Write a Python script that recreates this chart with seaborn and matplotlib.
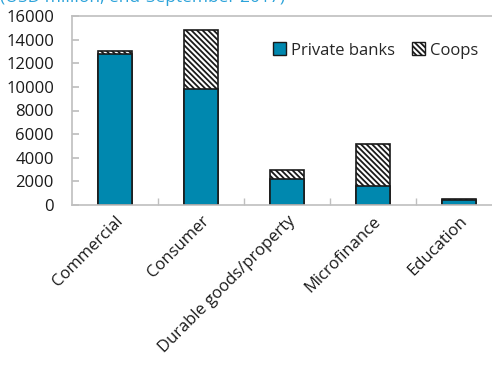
import matplotlib
matplotlib.use("Agg")
import matplotlib.pyplot as plt
import seaborn as sns
import pandas as pd
from matplotlib.patches import Patch
from matplotlib.ticker import FixedLocator

categories = ["Commercial", "Consumer", "Durable goods/property", "Microfinance", "Education"]
private_banks = [12750, 9800, 2200, 1600, 400]
coops = [300, 5000, 750, 3600, 150]
yticks = [0, 2000, 4000, 6000, 8000, 10000, 12000, 14000, 16000]
title = "(USD million, end-September 2017)"

sns.set_theme(style="white")
plt.rcParams["font.family"] = ["Open Sans", "DejaVu Sans"]
plt.rcParams["hatch.color"] = "#555555"
plt.rcParams["hatch.linewidth"] = 1.3

df = pd.DataFrame({"cat": categories, "private": private_banks, "coops": coops})
df["total"] = df["private"] + df["coops"]

fig = plt.figure(figsize=(4.92, 3.73), dpi=100)
ax = fig.add_axes([72 / 492, 1 - 205 / 373, 430 / 492, 189 / 373])

blue = "#0088AF"
hatch = "\\" * 6
sns.barplot(data=df, x="cat", y="total", color="white", edgecolor="#1a1a1a",
            linewidth=1.2, hatch=hatch, width=0.4, ax=ax, saturation=1)
sns.barplot(data=df, x="cat", y="private", color=blue, edgecolor="#1a1a1a",
            linewidth=1.2, width=0.4, ax=ax, saturation=1)

ax.set_ylim(0, 16000)
ax.set_yticks(yticks)
ax.set_yticklabels([str(v) for v in yticks], fontsize=12, color="#1a1a1a")
ax.set_xlim(-0.5, 4.5)
ax.set_xticks(range(len(categories)))
ax.set_xticklabels(categories, rotation=45, ha="right", rotation_mode="anchor",
                   fontsize=12, color="#1a1a1a")
ax.xaxis.set_minor_locator(FixedLocator([0.5, 1.5, 2.5, 3.5]))
ax.tick_params(axis="x", which="major", length=0, pad=6)
ax.tick_params(axis="x", which="minor", direction="in", length=5, color="#BFBFBF", bottom=True)
ax.tick_params(axis="y", direction="in", length=5, color="#BFBFBF", left=True, pad=13)
ax.set_xlabel("")
ax.set_ylabel("")
for s in ax.spines.values():
    s.set_color("#BFBFBF")
    s.set_linewidth(1.2)

handles = [Patch(facecolor=blue, edgecolor="#1a1a1a", label="Private banks"),
           Patch(facecolor="white", edgecolor="#1a1a1a", hatch=hatch, label="Coops")]
ax.legend(handles=handles, loc="upper left", bbox_to_anchor=((273 - 72) / 430, 0.86),
          ncol=2, frameon=False, fontsize=12, handlelength=0.8, handleheight=0.8,
          handletextpad=0.3, columnspacing=1.0, borderaxespad=0, borderpad=0)

fig.text(0.0, 1 - 1.5 / 373, title, color="#2CA3DA", fontsize=12.5, ha="left", va="baseline")

fig.savefig("out.png", dpi=100)
